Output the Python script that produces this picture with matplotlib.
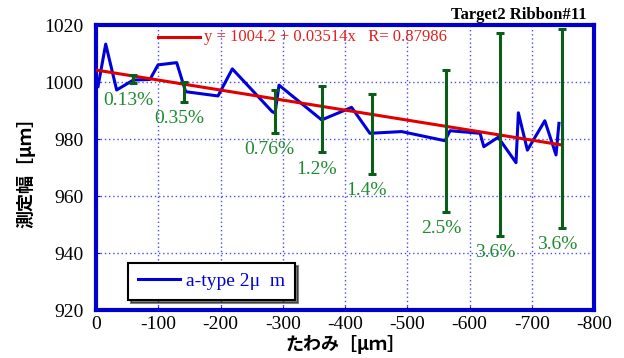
import numpy as np
import matplotlib.pyplot as plt
from matplotlib.lines import Line2D

plt.rcParams['font.family'] = ['Liberation Serif', 'Noto Sans CJK JP']
plt.rcParams['axes.unicode_minus'] = False

# measured width vs deflection (a-type 2um)
defl = [-3.2, -15.6, -33.2, -60, -86.7, -99.6, -129.6, -144, -196, -219,
        -283, -287.6, -294, -362.5, -410.6, -440, -491, -560.6, -568.7,
        -617, -623, -646, -674.7, -678.5, -693, -721, -739, -743.7]
width = [998.4, 1013.3, 997.2, 1000.7, 1000.9, 1006.0, 1006.8, 996.6, 995.1,
         1004.6, 989.6, 989.1, 998.9, 986.7, 991.1, 982.0, 982.6, 979.4,
         982.9, 982.0, 977.3, 980.6, 971.7, 989.2, 976.1, 986.4, 974.4, 985.5]

# error bars and their percent labels
err_x = [-60, -141, -287, -362.5, -443, -562, -649, -748]
err_y = [1001.0, 996.6, 989.6, 986.9, 981.8, 979.4, 981.6, 983.7]
err_e = [1.5, 3.5, 7.6, 11.6, 14.0, 24.9, 35.5, 34.8]
err_lbl = ['0.13%', '0.35%', '0.76%', '1.2%', '1.4%', '2.5%', '3.6%', '3.6%']

# linear fit
fit_a, fit_b, fit_r = 1004.2, 0.03514, 0.87986
fit_x = np.array([0, -748])

blue = '#0000dd'
green_bar = '#0b5e1a'
green_txt = '#1f8b2f'
serif = 'Liberation Serif'

fig = plt.figure(figsize=(6.24, 3.58), dpi=100)
ax = fig.add_axes([96/624, 1 - 310/358, 498/624, 285/358])

ax.grid(True, color='#4a4aee', linestyle=(0, (1, 2)), linewidth=1)
ax.set_axisbelow(True)

ax.plot(defl, width, color=blue, lw=2.2, zorder=3)
ax.plot(fit_x, fit_a + fit_b * fit_x, color='#e00000', lw=2.2, zorder=4)
ax.errorbar(err_x, err_y, yerr=err_e, fmt='none', ecolor=green_bar,
            elinewidth=2.2, capsize=3, capthick=2.2, zorder=5)
for x, y, e, t in zip(err_x, err_y, err_e, err_lbl):
    ax.annotate(t, (x, y - e), xytext=(-3.5, -12), textcoords='offset points',
                ha='center', va='center', color=green_txt, fontsize=14,
                family=serif, zorder=6)

ax.set_xlim(0, -800)
ax.set_ylim(920, 1020)
ax.set_xticks(np.arange(0, -801, -100))
ax.set_yticks(np.arange(920, 1021, 20))
ax.tick_params(direction='in', length=3, color=blue, labelsize=14,
               labelfontfamily=serif)
ax.tick_params(axis='x', pad=4)
ax.tick_params(axis='y', pad=9)
for s in ax.spines.values():
    s.set_color('#0000cc')
    s.set_linewidth(3)

# fit legend line + equation
ax.plot([0.1245, 0.209], [0.959, 0.959], transform=ax.transAxes,
        color='#e00000', lw=2.2, clip_on=False)
ax.text(0.217, 0.959, 'y = %.1f + %.5fx   R= %.5f' % (fit_a, fit_b, fit_r),
        transform=ax.transAxes, color='#e02020', fontsize=12, va='center',
        family=serif)

h = Line2D([], [], color=blue, lw=2.2)
leg = ax.legend([h], ['a-type 2μ  m'], loc='lower left',
                bbox_to_anchor=(0.064, 0.035), borderaxespad=0,
                fancybox=False, shadow={'color': 'black'},
                handlelength=2.2, handletextpad=0.3, borderpad=0.5,
                framealpha=1, prop={'family': serif, 'size': 14})
leg.get_frame().set_edgecolor('black')
leg.get_frame().set_linewidth(1.5)
for t in leg.get_texts():
    t.set_color(blue)

ax.set_xlabel('たわみ［μｍ］', family=['Noto Sans CJK JP'], fontsize=13,
              fontweight='bold', labelpad=2)
ax.set_ylabel('測定幅［μｍ］', family=['Noto Sans CJK JP'], fontsize=13,
              fontweight='bold', labelpad=6)

fig.text(0.94, 0.958, 'Target2 Ribbon#11', ha='right', va='center',
         fontsize=12, fontweight='bold', family=serif)

fig.savefig('out.png', dpi=100)
